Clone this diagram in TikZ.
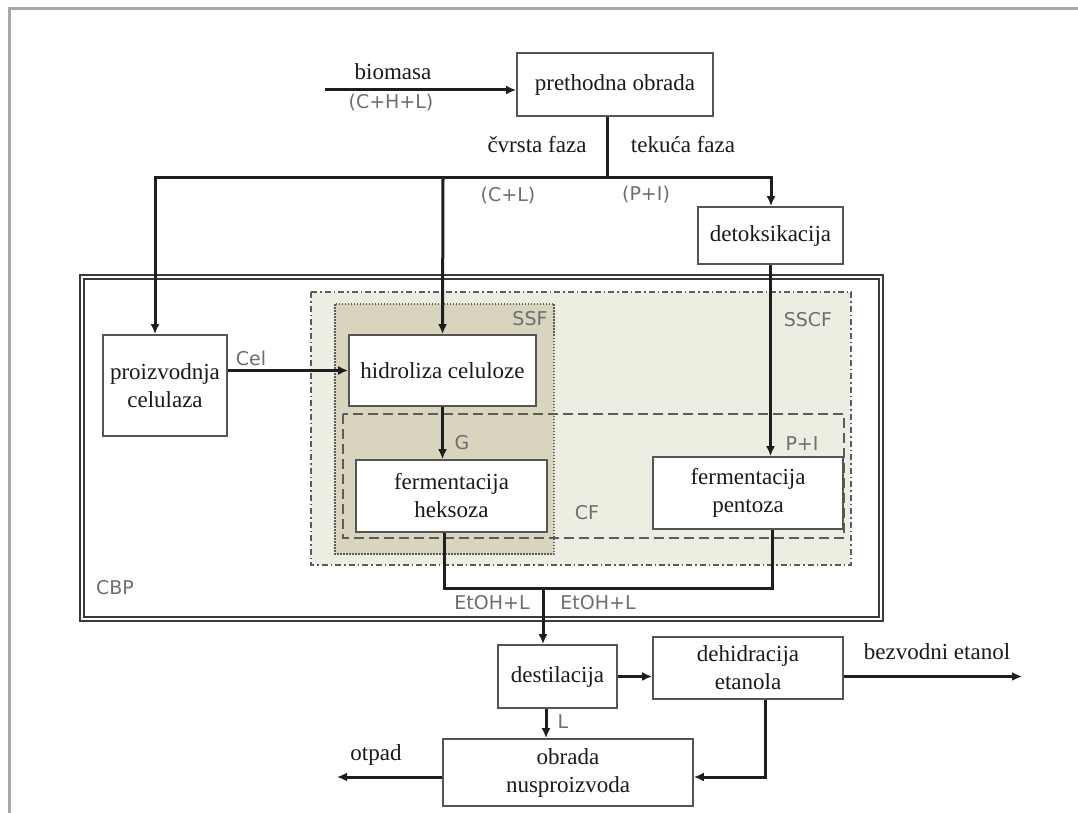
\documentclass[tikz,border=0pt]{standalone}
\usepackage{fontspec}
\setmainfont{Liberation Serif}
\newfontfamily\labfont{DejaVu Sans}
\usetikzlibrary{arrows.meta}
\definecolor{framegray}{HTML}{A8A8A8}
\definecolor{boxline}{HTML}{555555}
\definecolor{txt}{HTML}{1A1A1A}
\definecolor{labgray}{HTML}{6E6E6E}
\definecolor{flowc}{HTML}{1E1E1E}
\definecolor{sscf}{HTML}{EEEDE2}
\definecolor{ssf}{HTML}{D8D4BE}
\definecolor{regline}{HTML}{5C5C5C}
\definecolor{cbpline}{HTML}{3A3A3A}
\begin{document}
\begin{tikzpicture}[x=1pt,y=-1pt,
  box/.style={draw=boxline, fill=white, line width=1.7pt, align=center, inner sep=0pt,
              font=\fontsize{23}{28}\selectfont, text=txt},
  lab/.style={font=\labfont\fontsize{19}{22}\selectfont, text=labgray, inner sep=0pt},
  stxt/.style={font=\fontsize{23}{28}\selectfont, text=txt, inner sep=0pt},
  flow/.style={line width=3pt, draw=flowc},
  arr/.style={flow, -{Latex[length=10pt,width=9pt]}},
  region/.style={line width=1.5pt, draw=regline}]
\useasboundingbox (0,0) rectangle (1078,813);
\fill[white] (0,0) rectangle (1078,813);
% outer frame
\draw[framegray, line width=3pt] (9,813) -- (9,9) -- (1078,9);

% CBP region
\draw[cbpline, line width=1.9pt, double=white, double distance=2pt, fill=white] (82,277) rectangle (881,619);
% SSCF region
\draw[region, fill=sscf, dash pattern=on 6pt off 3pt on 1.5pt off 3pt] (311,292) rectangle (851,565);
% SSF region
\draw[region, fill=ssf, dash pattern=on 1.5pt off 1.5pt] (335,304) rectangle (554,554);
% CF region
\draw[region, dash pattern=on 10pt off 5pt] (343,414) rectangle (844,538);

% boxes
\node[box, minimum width=196pt, minimum height=63pt] (pre) at (615,84.5) {prethodna obrada};
\node[box, minimum width=145pt, minimum height=57pt] (det) at (770.5,235.5) {detoksikacija};
\node[box, minimum width=124pt, minimum height=101pt] (pro) at (165,385.5) {proizvodnja\\celulaza};
\node[box, minimum width=187pt, minimum height=71pt] (hid) at (442.5,370.5) {hidroliza celuloze};
\node[box, minimum width=191pt, minimum height=72pt] (hek) at (451.5,496) {fermentacija\\heksoza};
\node[box, minimum width=190pt, minimum height=72pt] (pen) at (748,493) {fermentacija\\pentoza};
\node[box, minimum width=119pt, minimum height=63pt] (des) at (557.5,676.5) {destilacija};
\node[box, minimum width=190pt, minimum height=62pt] (deh) at (748,668) {dehidracija\\etanola};
\node[box, minimum width=250pt, minimum height=67pt] (obr) at (568,772.5) {obrada\\nusproizvoda};

% coordinates
\coordinate (bioS) at (325,90);
\coordinate (split) at (607,178);
\coordinate (jL) at (155,178);
\coordinate (jM) at (443,178);
\coordinate (jR) at (771,178);
\coordinate (m1) at (444,588);
\coordinate (m2) at (772,588);
\coordinate (mE) at (543,588);
\coordinate (bezE) at (1022,676.5);
\coordinate (dc) at (765,777);
\coordinate (otE) at (337,777);

% connectors
\draw[arr] (bioS) -- (pre.west |- bioS);
\draw[flow] (split |- pre.south) -- (split);
\draw[flow, line cap=rect] (jL) -- (jR);
\draw[arr] (jL) -- (jL |- pro.north);
\draw[arr] (jM) -- (hid.north);
\draw[arr] (jR) -- (jR |- det.north);
\draw[arr] (det.south) -- (det.south |- pen.north);
\draw[arr] (pro.east |- hid.west) -- (hid.west);
\draw[arr] (hid.south) -- (hid.south |- hek.north);
\draw[flow, line join=miter] (m1 |- hek.south) -- (m1) -- (m2) -- (m2 |- pen.south);
\draw[arr] (mE) -- (mE |- des.north);
\draw[arr] (des.east) -- (des.east -| deh.west);
\draw[arr] (deh.east |- des.east) -- (bezE);
\draw[arr] ([xshift=-11.5pt]des.south) -- ([xshift=-11.5pt]des.south |- obr.north);
\draw[arr, line join=miter] (dc |- deh.south) -- (dc) -- (dc -| obr.east);
\draw[arr] (obr.west |- otE) -- (otE);

% serif labels
\node[stxt] (tbio) at (393,72) {biomasa};
\node[stxt] (tcvr) at (537,145) {čvrsta faza};
\node[stxt] (ttek) at (683,145) {tekuća faza};
\node[stxt] (tbez) at (937,652) {bezvodni etanol};
\node[stxt] (totp) at (376,755) {otpad};

% gray sans labels
\node[lab] (lchl) at (391,103) {(C+H+L)};
\node[lab] (lcl) at (508,196) {(C+L)};
\node[lab] (lpi) at (646,195) {(P+I)};
\node[lab] (lcel) at (251,358) {Cel};
\node[lab] (lssf) at (530,319) {SSF};
\node[lab] (lsscf) at (808,320) {SSCF};
\node[lab] (lg) at (462,443) {G};
\node[lab] (lpi2) at (802,444) {P+I};
\node[lab] (lcf) at (587,513) {CF};
\node[lab] (lcbp) at (115,588) {CBP};
\node[lab] (le1) at (492,603) {EtOH+L};
\node[lab] (le2) at (598,603) {EtOH+L};
\node[lab] (ll) at (563,722) {L};
\end{tikzpicture}
\end{document}
